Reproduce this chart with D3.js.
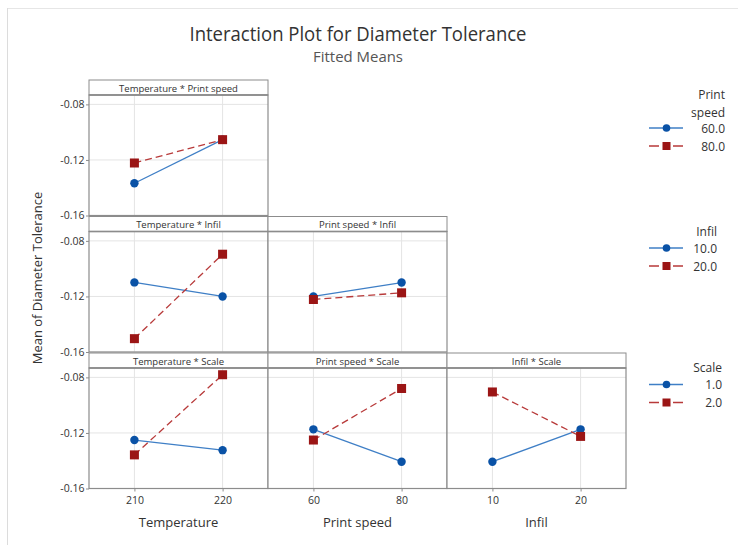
<!DOCTYPE html>
<html>
<head>
<meta charset="utf-8">
<script src="https://cdn.jsdelivr.net/npm/d3@7"></script>
<style>
  html, body { margin: 0; padding: 0; background: #fff; }
  svg { display: block; font-family: "Open Sans", "Noto Sans", sans-serif; }
</style>
</head>
<body>
<svg id="chart" width="738" height="545"></svg>
<script>
// ---------- data ----------
const factorNames = ["Temperature", "Print speed", "Infil", "Scale"];
const temperatureLevels = [210, 220];
const printSpeedLevels = [60, 80];
const infilLevels = [10, 20];
const scaleLevels = [1, 2];
const yTicks = [-0.16, -0.12, -0.08];
const yTickLabels = ["-0.16", "-0.12", "-0.08"];

const legendPrintSpeed = ["60.0", "80.0"];
const legendInfil = ["10.0", "20.0"];
const legendScale = ["1.0", "2.0"];

// fitted means (first level series, second level series)
const tempBySpeed60 = [-0.1368, -0.1054];
const tempBySpeed80 = [-0.1222, -0.1054];
const tempByInfil10 = [-0.1099, -0.1200];
const tempByInfil20 = [-0.1504, -0.0896];
const speedByInfil10 = [-0.1200, -0.1100];
const speedByInfil20 = [-0.1222, -0.1174];
const tempByScale1 = [-0.1251, -0.1324];
const tempByScale2 = [-0.1358, -0.0781];
const speedByScale1 = [-0.1174, -0.1407];
const speedByScale2 = [-0.1251, -0.0880];
const infilByScale1 = [-0.1407, -0.1174];
const infilByScale2 = [-0.0905, -0.1225];

const levelsByFactor = [temperatureLevels, printSpeedLevels, infilLevels, scaleLevels];

const panels = [
  { row: 0, col: 0, title: "Temperature * Print speed", series: [tempBySpeed60, tempBySpeed80] },
  { row: 1, col: 0, title: "Temperature * Infil", series: [tempByInfil10, tempByInfil20] },
  { row: 1, col: 1, title: "Print speed * Infil", series: [speedByInfil10, speedByInfil20] },
  { row: 2, col: 0, title: "Temperature * Scale", series: [tempByScale1, tempByScale2] },
  { row: 2, col: 1, title: "Print speed * Scale", series: [speedByScale1, speedByScale2] },
  { row: 2, col: 2, title: "Infil * Scale", series: [infilByScale1, infilByScale2] }
];

const legends = [
  { title: ["Print", "speed"], labels: legendPrintSpeed, row: 0, right: 725 },
  { title: ["Infil"], labels: legendInfil, row: 1, right: 717 },
  { title: ["Scale"], labels: legendScale, row: 2, right: 722 }
];

// ---------- styles ----------
const blue = "#0a52a6";
const blueLine = "#3f7fc6";
const red = "#9b1515";
const redLine = "#b83a3a";
const frame = "#8c8c8c";
const grid = "#e4e4e4";
const textCol = "#333";

const svg = d3.select("#chart");

// outer frame lines
svg.append("line").attr("x1", 7).attr("x2", 738).attr("y1", 8.5).attr("y2", 8.5)
  .attr("stroke", "#e6e6e6").attr("stroke-width", 1);
svg.append("line").attr("x1", 7.5).attr("x2", 7.5).attr("y1", 8).attr("y2", 545)
  .attr("stroke", "#dcdcdc").attr("stroke-width", 1);

// titles
svg.append("text").attr("x", 358).attr("y", 41).attr("text-anchor", "middle")
  .attr("font-size", 20).attr("fill", "#333").attr("textLength", 337)
  .attr("lengthAdjust", "spacingAndGlyphs")
  .text("Interaction Plot for Diameter Tolerance");
svg.append("text").attr("x", 358).attr("y", 62).attr("text-anchor", "middle")
  .attr("font-size", 15).attr("fill", "#555").attr("textLength", 90)
  .attr("lengthAdjust", "spacingAndGlyphs")
  .text("Fitted Means");

// layout scales
const colScale = d3.scaleBand().domain([0, 1, 2]).range([89, 626]).paddingInner(0).paddingOuter(0);
const rowScale = d3.scaleLinear().domain([0, 1]).range([80, 216.5]);
const headerH = 15;
const plotH = 120.5;

function yScaleFor(row) {
  const top = rowScale(row) + headerH;
  return d3.scaleLinear().domain([-0.16, -0.07325]).range([top + plotH, top]);
}
function xScaleFor(col) {
  const lv = levelsByFactor[col];
  const span = lv[1] - lv[0];
  const x0 = colScale(col);
  return d3.scaleLinear().domain([lv[0] - 0.515 * span, lv[1] + 0.515 * span])
    .range([x0, x0 + colScale.bandwidth()]);
}

const markerLayer = [];

panels.forEach(p => {
  const x = xScaleFor(p.col);
  const y = yScaleFor(p.row);
  const x0 = colScale(p.col), w = colScale.bandwidth();
  const top = rowScale(p.row);
  const g = svg.append("g");

  // background
  g.append("rect").attr("x", x0).attr("y", top + headerH).attr("width", w).attr("height", plotH)
    .attr("fill", "#fff");

  // grid lines
  g.selectAll(".hg").data(yTicks).enter().append("line")
    .attr("x1", x0).attr("x2", x0 + w)
    .attr("y1", d => y(d)).attr("y2", d => y(d))
    .attr("stroke", grid).attr("stroke-width", 1);
  const lv = levelsByFactor[p.col];
  g.selectAll(".vg").data(lv).enter().append("line")
    .attr("x1", d => x(d)).attr("x2", d => x(d))
    .attr("y1", top + headerH).attr("y2", top + headerH + plotH)
    .attr("stroke", grid).attr("stroke-width", 1);

  // header strip
  g.append("rect").attr("x", x0).attr("y", top).attr("width", w).attr("height", headerH)
    .attr("fill", "#fff").attr("stroke", frame).attr("stroke-width", 1);
  g.append("line").attr("x1", x0).attr("x2", x0 + w).attr("y1", top + headerH).attr("y2", top + headerH)
    .attr("stroke", frame).attr("stroke-width", 1.6);
  g.append("text").attr("x", x0 + w / 2).attr("y", top + 11.5).attr("text-anchor", "middle")
    .attr("font-size", 9.5).attr("fill", textCol).text(p.title);

  // plot frame
  g.append("rect").attr("x", x0).attr("y", top + headerH).attr("width", w).attr("height", plotH)
    .attr("fill", "none").attr("stroke", frame).attr("stroke-width", 1.2);

  // lines
  const line = d3.line().x((d, i) => x(lv[i])).y(d => y(d));
  g.append("path").datum(p.series[0]).attr("d", line)
    .attr("fill", "none").attr("stroke", blueLine).attr("stroke-width", 1.3);
  g.append("path").datum(p.series[1]).attr("d", line)
    .attr("fill", "none").attr("stroke", redLine).attr("stroke-width", 1.3)
    .attr("stroke-dasharray", "7,4");

  markerLayer.push({ g, x, y, lv, p });

  // y axis for first column
  if (p.col === 0) {
    const ax = d3.axisLeft(y).tickValues(yTicks).tickFormat((d, i) => yTickLabels[i])
      .tickSize(3).tickSizeOuter(0);
    const axg = svg.append("g").attr("transform", `translate(${x0},0)`).call(ax);
    axg.select(".domain").remove();
    axg.selectAll("line").attr("stroke", frame);
    axg.selectAll("text").attr("font-size", 10.5).attr("fill", textCol)
      .attr("font-family", "'Open Sans', sans-serif").attr("x", -4.5);
  }
  // x axis for bottom row
  if (p.row === 2) {
    const ax = d3.axisBottom(x).tickValues(lv).tickFormat(d3.format("d")).tickSize(3).tickSizeOuter(0);
    const axg = svg.append("g").attr("transform", `translate(0,${top + headerH + plotH})`).call(ax);
    axg.select(".domain").remove();
    axg.selectAll("line").attr("stroke", frame);
    axg.selectAll("text").attr("font-size", 10.5).attr("fill", textCol)
      .attr("font-family", "'Open Sans', sans-serif").attr("y", 8);
    svg.append("text").attr("x", x0 + w / 2).attr("y", 527).attr("text-anchor", "middle")
      .attr("font-size", 13).attr("fill", textCol).text(factorNames[p.col]);
  }
});

// markers on top
markerLayer.forEach(({ g, x, y, lv, p }) => {
  g.selectAll(".c").data(p.series[0]).enter().append("circle")
    .attr("cx", (d, i) => x(lv[i])).attr("cy", d => y(d)).attr("r", 4.2)
    .attr("fill", blue);
  g.selectAll(".s").data(p.series[1]).enter().append("rect")
    .attr("x", (d, i) => x(lv[i]) - 4.5).attr("y", d => y(d) - 4.5)
    .attr("width", 9).attr("height", 9).attr("fill", red);
});

// y axis title
svg.append("text").attr("transform", "translate(42,278) rotate(-90)")
  .attr("text-anchor", "middle").attr("font-size", 13).attr("fill", textCol)
  .text("Mean of Diameter Tolerance");

// legends
const legendOffsets = [[14.5, 32.5, 48.5], [15.5, 31.5], [15.5, 32.5]];
legends.forEach((L, li) => {
  const top = rowScale(L.row);
  const g = svg.append("g");
  const titleLines = L.title;
  titleLines.forEach((t, i) => {
    g.append("text").attr("x", L.right).attr("y", top + 19 + i * 18).attr("text-anchor", "end")
      .attr("font-size", 12).attr("fill", textCol).text(t);
  });
  const base = top + (titleLines.length === 2 ? 48 : 31.5);
  L.labels.forEach((lab, i) => {
    const cy = base + i * 18;
    if (i === 0) {
      g.append("line").attr("x1", 649).attr("x2", 683).attr("y1", cy).attr("y2", cy)
        .attr("stroke", blueLine).attr("stroke-width", 1.3);
      g.append("circle").attr("cx", 666.5).attr("cy", cy).attr("r", 3.8).attr("fill", blue);
    } else {
      g.append("line").attr("x1", 649).attr("x2", 683).attr("y1", cy).attr("y2", cy)
        .attr("stroke", redLine).attr("stroke-width", 1.3).attr("stroke-dasharray", "10,14");
      g.append("rect").attr("x", 662.5).attr("y", cy - 4).attr("width", 8).attr("height", 8).attr("fill", red);
    }
    g.append("text").attr("x", L.right).attr("y", cy + 4.5).attr("text-anchor", "end")
      .attr("font-size", 12).attr("fill", textCol).text(lab);
  });
});
</script>
</body>
</html>
